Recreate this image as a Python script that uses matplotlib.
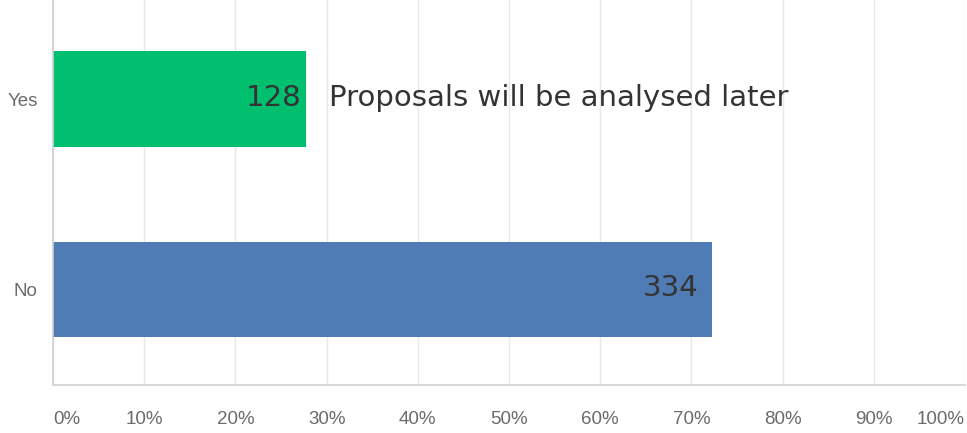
import matplotlib.pyplot as plt
from matplotlib.ticker import FixedLocator

# Dados
categorias = ['No', 'Yes']
respostas = [334, 128]
cores = ['#507cb6', '#00bf6f']
ticks_x = [0, 10, 20, 30, 40, 50, 60, 70, 80, 90, 100]
nota = 'Proposals will be analysed later'

total = sum(respostas)
percentuais = [r / total * 100 for r in respostas]

fig = plt.figure(figsize=(9.67, 4.33), dpi=100)
ax = fig.add_axes([0.0548, 0.111, 0.9432, 0.889])

y = list(range(len(categorias)))
ax.barh(y, percentuais, height=0.5, color=cores, zorder=2)

ax.set_xlim(0, 100)
ax.set_ylim(-0.5, 1.52)
ax.xaxis.set_major_locator(FixedLocator(ticks_x))
ax.set_xticklabels([f'{t}%' for t in ticks_x])
ax.set_yticks(y)
ax.set_yticklabels(categorias)

for lab in ax.get_xticklabels() + ax.get_yticklabels():
    lab.set_family('Liberation Sans')
    lab.set_fontsize(13.5)
    lab.set_color('#6b6b6b')
xl = ax.get_xticklabels()
xl[0].set_ha('left')
xl[-1].set_ha('right')

ax.tick_params(axis='both', length=0)
ax.tick_params(axis='x', pad=19)
ax.tick_params(axis='y', pad=11)

ax.grid(axis='x', color='#e8e8e8', linewidth=1, zorder=0)
for lado in ['top', 'right']:
    ax.spines[lado].set_visible(False)
for lado in ['left', 'bottom']:
    ax.spines[lado].set_color('#d0d0d0')
    ax.spines[lado].set_linewidth(1.2)

# Rótulos dos valores
deslocamentos = [-10, -3]
for yi, p, r, d in zip(y, percentuais, respostas, deslocamentos):
    ax.annotate(str(r), (p, yi), xytext=(d, 1), textcoords='offset points',
                ha='right', va='center', fontsize=21, color='#333333', zorder=3)

ax.annotate(nota, (percentuais[1], y[1]), xytext=(17, 1), textcoords='offset points',
            ha='left', va='center', fontsize=21, color='#333333', zorder=3)

plt.savefig('out.png', dpi=100)
